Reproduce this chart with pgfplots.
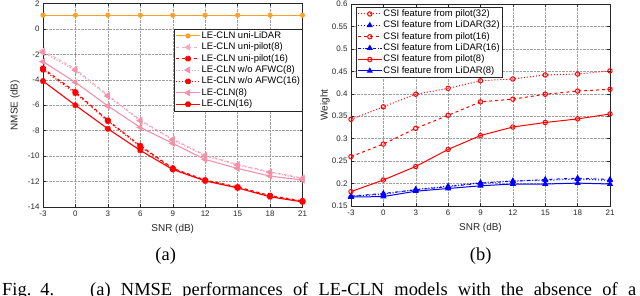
\documentclass[border=0pt]{standalone}
\usepackage{fontspec}
\setmainfont{Liberation Sans}
\newfontfamily\capfont{Liberation Serif}
\usepackage{pgfplots}
\pgfplotsset{compat=1.18}
\usetikzlibrary{plotmarks}
\definecolor{morange}{RGB}{255,160,40}
\definecolor{mpink}{RGB}{243,145,170}
\definecolor{mlpink}{RGB}{247,172,192}
\definecolor{mred}{RGB}{255,0,0}
\definecolor{mblue}{RGB}{0,0,255}
\definecolor{maxis}{RGB}{38,38,38}
\pgfplotsset{
  mstyle/.style={
    scale only axis,
    xmin=-3, xmax=21, xtick={-3,0,3,6,9,12,15,18,21},
    grid=major,
    grid style={densely dotted, gray!75, line width=0.45pt},
    tick align=inside, major tick length=3bp,
    xtick pos=both, ytick pos=both,
    axis line style={line width=0.5pt, maxis},
    tick style={maxis, line width=0.5pt},
    ticklabel style={font=\fontsize{8}{9}\selectfont, text=maxis},
    label style={font=\fontsize{10}{11}\selectfont, text=maxis},
    /pgf/number format/assume math mode=true,
    legend cell align=left,
    legend style={font=\fontsize{9.5}{10.5}\selectfont, draw=maxis, line width=0.5pt,
      inner sep=1pt, row sep=0pt,
      nodes={inner sep=1.2pt, text height=6.9bp, text depth=2.1bp}},
    legend image code/.code={\draw[mark repeat=2,mark phase=2] plot coordinates {(0cm,0cm) (0.42cm,0cm) (0.84cm,0cm)};},
  }
}
\begin{document}
\begin{tikzpicture}
\useasboundingbox (0,0) rectangle (640bp,296bp);
\clip (0,0) rectangle (640bp,296bp);
% ---------------- (a)
\begin{axis}[mstyle,
  at={(43bp,89bp)}, anchor=south west, width=259.5bp, height=203.5bp,
  ymin=-14, ymax=2, ytick={-14,-12,-10,-8,-6,-4,-2,0,2},
  xlabel={SNR (dB)}, ylabel={NMSE (dB)},
  xlabel style={at={(axis description cs:0.5,-0.106)}, anchor=center},
  ylabel style={at={(axis description cs:-0.108,0.5)}, anchor=center},
  legend style={at={(axis description cs:1,0.875)}, anchor=north east},
]
\addplot[morange, line width=1.1pt, mark=*, mark size=2bp, mark options={solid, fill=morange}]
  coordinates {(-3,1.08) (0,1.08) (3,1.08) (6,1.08) (9,1.08) (12,1.08) (15,1.08) (18,1.08) (21,1.08)};
\addlegendentry{LE-CLN uni-LiDAR}
\addplot[mlpink, dashed, line width=1pt, mark=triangle*, mark size=3bp, mark options={solid, rotate=90, fill=mlpink}]
  coordinates {(-3,-1.71) (0,-3.15) (3,-5.2) (6,-7.17) (9,-8.66) (12,-9.92) (15,-10.65) (18,-11.23) (21,-11.72)};
\addlegendentry{LE-CLN uni-pilot(8)}
\addplot[mred, dashed, line width=1.1pt, mark=10-pointed star, mark size=3bp, mark options={solid, fill=mred}]
  coordinates {(-3,-3.1) (0,-4.95) (3,-7.18) (6,-9.18) (9,-10.95) (12,-11.88) (15,-12.42) (18,-13.1) (21,-13.52)};
\addlegendentry{LE-CLN uni-pilot(16)}
\addplot[mpink, dotted, line width=1.1pt, mark=triangle*, mark size=3bp, mark options={solid, rotate=90, fill=mpink}]
  coordinates {(-3,-1.85) (0,-3.25) (3,-5.28) (6,-7.22) (9,-8.72) (12,-9.98) (15,-10.7) (18,-11.28) (21,-11.78)};
\addlegendentry{LE-CLN w/o AFWC(8)}
\addplot[mred, dotted, line width=1.1pt, mark=10-pointed star, mark size=3bp, mark options={solid, fill=mred}]
  coordinates {(-3,-3.2) (0,-5.05) (3,-7.25) (6,-9.25) (9,-11.0) (12,-11.92) (15,-12.48) (18,-13.15) (21,-13.55)};
\addlegendentry{LE-CLN w/o AFWC(16)\hspace{7bp}}
\addplot[mpink, solid, line width=1.1pt, mark=triangle*, mark size=3bp, mark options={solid, rotate=90, fill=mpink}]
  coordinates {(-3,-2.57) (0,-4.2) (3,-6.06) (6,-7.74) (9,-9.0) (12,-10.26) (15,-10.97) (18,-11.57) (21,-11.88)};
\addlegendentry{LE-CLN(8)}
\addplot[mred, solid, line width=1.1pt, mark=10-pointed star, mark size=3bp, mark options={solid, fill=mred}]
  coordinates {(-3,-4.1) (0,-6.0) (3,-7.85) (6,-9.55) (9,-11.05) (12,-11.95) (15,-12.5) (18,-13.2) (21,-13.6)};
\addlegendentry{LE-CLN(16)}
\end{axis}
% ---------------- (b)
\begin{axis}[mstyle,
  at={(351bp,90bp)}, anchor=south west, width=259bp, height=202bp,
  ymin=0.15, ymax=0.6, ytick={0.15,0.2,0.25,0.3,0.35,0.4,0.45,0.5,0.55,0.6},
  yticklabel style={/pgf/number format/fixed, /pgf/number format/precision=2},
  xlabel={SNR (dB)}, ylabel={Weight},
  xlabel style={at={(axis description cs:0.5,-0.109)}, anchor=center},
  ylabel style={at={(axis description cs:-0.1,0.5)}, anchor=center},
  legend style={at={(axis description cs:0.02,0.985)}, anchor=north west},
]
\addplot[mred, dotted, line width=1pt, mark=o, mark size=2.2bp, mark options={solid}]
  coordinates {(-3,0.343) (0,0.371) (3,0.399) (6,0.412) (9,0.429) (12,0.433) (15,0.442) (18,0.444) (21,0.451)};
\addlegendentry{CSI feature from pilot(32)}
\addplot[mblue, dotted, line width=1pt, mark=triangle*, mark size=2.6bp, mark options={solid, fill=mblue}]
  coordinates {(-3,0.172) (0,0.176) (3,0.187) (6,0.194) (9,0.202) (12,0.206) (15,0.207) (18,0.21) (21,0.207)};
\addlegendentry{CSI feature from LiDAR(32)}
\addplot[mred, dashed, line width=1pt, mark=o, mark size=2.2bp, mark options={solid}]
  coordinates {(-3,0.26) (0,0.288) (3,0.323) (6,0.352) (9,0.382) (12,0.388) (15,0.399) (18,0.406) (21,0.41)};
\addlegendentry{CSI feature from pilot(16)}
\addplot[mblue, dash dot, line width=1pt, mark=triangle*, mark size=2.6bp, mark options={solid, fill=mblue}]
  coordinates {(-3,0.172) (0,0.178) (3,0.186) (6,0.193) (9,0.201) (12,0.205) (15,0.209) (18,0.212) (21,0.209)};
\addlegendentry{CSI feature from LiDAR(16)}
\addplot[mred, solid, line width=1pt, mark=o, mark size=2.2bp, mark options={solid}]
  coordinates {(-3,0.182) (0,0.208) (3,0.238) (6,0.276) (9,0.307) (12,0.326) (15,0.336) (18,0.344) (21,0.355)};
\addlegendentry{CSI feature from pilot(8)}
\addplot[mblue, solid, line width=1pt, mark=triangle*, mark size=2.6bp, mark options={solid, fill=mblue}]
  coordinates {(-3,0.17) (0,0.171) (3,0.183) (6,0.189) (9,0.195) (12,0.199) (15,0.199) (18,0.201) (21,0.199)};
\addlegendentry{CSI feature from LiDAR(8)}
\end{axis}
% ---------------- captions
\node[anchor=base, inner sep=0, font=\capfont\fontsize{18.5}{20}\selectfont] at (165.7bp,35.4bp) {(a)};
\node[anchor=base, inner sep=0, font=\capfont\fontsize{18.5}{20}\selectfont] at (480.7bp,35.4bp) {(b)};
\node[anchor=base west, inner sep=0, font=\capfont\fontsize{18.5}{20}\selectfont] at (2bp,0.5bp)
  {\makebox[634bp][s]{Fig.\hspace{9bp}4.\hspace{36bp}(a) NMSE performances of LE-CLN models with the absence of a}};
\end{tikzpicture}
\end{document}
